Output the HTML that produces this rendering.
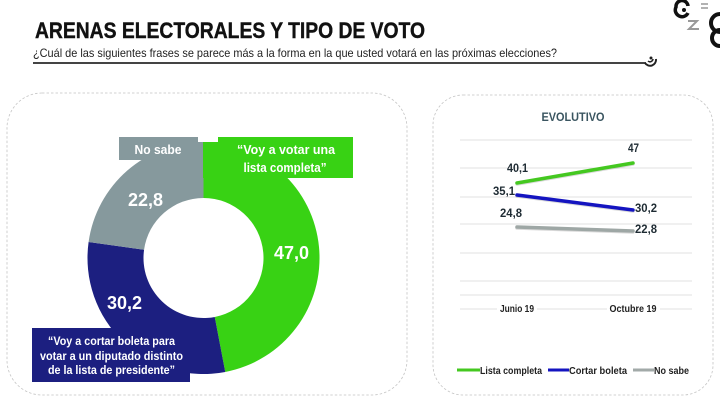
<!DOCTYPE html>
<html><head><meta charset="utf-8"><style>
html,body{margin:0;padding:0;background:#fff;}
svg{display:block;font-family:"Liberation Sans",sans-serif;}
</style></head><body>
<svg width="720" height="405" viewBox="0 0 720 405" xmlns="http://www.w3.org/2000/svg">
<rect width="720" height="405" fill="#fff"/>
<!-- header -->
<text x="35" y="38" font-size="22" font-weight="bold" fill="#111" stroke="#111" stroke-width="0.4" textLength="390" lengthAdjust="spacingAndGlyphs">ARENAS ELECTORALES Y TIPO DE VOTO</text>
<text x="33" y="57" font-size="12" fill="#222" textLength="524" lengthAdjust="spacingAndGlyphs">¿Cuál de las siguientes frases se parece más a la forma en la que usted votará en las próximas elecciones?</text>
<line x1="33" y1="63" x2="646" y2="63" stroke="#444" stroke-width="2"/>
<path d="M645,63 a6,6 0 0 0 11,-4" fill="none" stroke="#222" stroke-width="2"/>
<path d="M648,61 a3,3 0 0 0 5,-2" fill="none" stroke="#222" stroke-width="1.5"/>
<circle cx="651" cy="58" r="1.5" fill="#222"/>
<!-- logo -->
<path d="M688,6 a6,6 0 0 0 -12,1 a6,6 0 0 0 12,6" fill="none" stroke="#111" stroke-width="3.5"/>
<circle cx="684" cy="10" r="2" fill="#111"/>
<path d="M688,21 h9 l-8,8 h10" fill="none" stroke="#999" stroke-width="2"/>
<path d="M701,4 h7 M701,8 h7" stroke="#999" stroke-width="1.5"/>
<path d="M720,14 a9,9 0 0 0 0,18" fill="none" stroke="#111" stroke-width="4"/>
<path d="M720,30 a8,8 0 0 0 -8,8 a8,8 0 0 0 8,8" fill="none" stroke="#111" stroke-width="4"/>
<!-- panels -->
<rect x="7" y="93" width="400" height="302" rx="35" fill="none" stroke="#c4c4c4" stroke-width="0.8" stroke-dasharray="2.5,2"/>
<rect x="433" y="95" width="280" height="300" rx="30" fill="none" stroke="#c4c4c4" stroke-width="0.8" stroke-dasharray="2.5,2"/>
<!-- donut -->
<path d="M203.5,142 A116,116 0 0 1 225.24,371.95 L214.74,316.94 A60,60 0 0 0 203.5,198 Z" fill="#38d214"/>
<path d="M225.24,371.95 A116,116 0 0 1 88.6,242.02 L144.07,249.73 A60,60 0 0 0 214.74,316.94 Z" fill="#1c1f80"/>
<path d="M88.6,242.02 A116,116 0 0 1 203.5,142 L203.5,198 A60,60 0 0 0 144.07,249.73 Z" fill="#86999d"/>
<!-- label boxes -->
<rect x="119" y="137" width="84" height="23" fill="#86999d"/>
<rect x="203" y="137" width="150" height="41" fill="#38d214"/>
<rect x="198" y="136" width="20" height="6" fill="#fff"/>
<rect x="32" y="328" width="158" height="54" fill="#1c1f80"/>
<g fill="#fff" font-weight="bold" text-anchor="middle">
<text x="158" y="154" font-size="13" textLength="47" lengthAdjust="spacingAndGlyphs">No sabe</text>
<text x="286" y="154" font-size="13" textLength="98" lengthAdjust="spacingAndGlyphs">“Voy a votar una</text>
<text x="285" y="172" font-size="13" textLength="83" lengthAdjust="spacingAndGlyphs">lista completa”</text>
<text x="111.5" y="345" font-size="12" textLength="127" lengthAdjust="spacingAndGlyphs">“Voy a cortar boleta para</text>
<text x="111.5" y="360" font-size="12" textLength="143" lengthAdjust="spacingAndGlyphs">votar a un diputado distinto</text>
<text x="111.5" y="374" font-size="12" textLength="127" lengthAdjust="spacingAndGlyphs">de la lista de presidente”</text>
<text x="291.5" y="259" font-size="18">47,0</text>
<text x="145.5" y="206" font-size="18">22,8</text>
<text x="124.5" y="309" font-size="18">30,2</text>
</g>
<!-- line chart -->
<text x="573" y="121" font-size="12" font-weight="bold" fill="#3a5560" text-anchor="middle" textLength="63" lengthAdjust="spacingAndGlyphs">EVOLUTIVO</text>
<g stroke="#e0e0e0" stroke-width="1">
<line x1="460" y1="140" x2="692" y2="140"/>
<line x1="460" y1="168" x2="692" y2="168"/>
<line x1="460" y1="197" x2="692" y2="197"/>
<line x1="460" y1="224" x2="692" y2="224"/>
<line x1="460" y1="253" x2="692" y2="253"/>
<line x1="460" y1="281" x2="692" y2="281"/>
<line x1="460" y1="295" x2="692" y2="295"/>
<line x1="460" y1="309" x2="692" y2="309"/>
</g>
<rect x="497" y="302" width="40" height="14" fill="#fff"/>
<rect x="607" y="302" width="53" height="14" fill="#fff"/>
<g font-size="10" font-weight="bold" fill="#222" text-anchor="middle">
<text x="517" y="312" textLength="34" lengthAdjust="spacingAndGlyphs">Junio 19</text>
<text x="633" y="312" textLength="47" lengthAdjust="spacingAndGlyphs">Octubre 19</text>
</g>
<!-- series shadows -->
<g stroke-width="3.5" stroke-linecap="round" opacity="0.18">
<line x1="517" y1="184" x2="633" y2="164" stroke="#333"/>
<line x1="517" y1="196" x2="633" y2="211" stroke="#333"/>
<line x1="517" y1="228" x2="633" y2="232" stroke="#333"/>
</g>
<g stroke-width="3.5" stroke-linecap="round">
<line x1="517" y1="183" x2="633" y2="163" stroke="#44c820"/>
<line x1="517" y1="195" x2="633" y2="210" stroke="#1414c0"/>
<line x1="517" y1="227" x2="633" y2="231" stroke="#9ea7a5"/>
</g>
<g font-size="12" font-weight="bold" fill="#1e2b33">
<text x="507" y="172" textLength="21" lengthAdjust="spacingAndGlyphs">40,1</text>
<text x="628" y="152" textLength="11" lengthAdjust="spacingAndGlyphs">47</text>
<text x="493" y="195" textLength="22" lengthAdjust="spacingAndGlyphs">35,1</text>
<text x="635" y="212" textLength="22" lengthAdjust="spacingAndGlyphs">30,2</text>
<text x="500" y="217" textLength="22" lengthAdjust="spacingAndGlyphs">24,8</text>
<text x="635" y="233" textLength="22" lengthAdjust="spacingAndGlyphs">22,8</text>
</g>
<!-- legend -->
<g stroke-width="3">
<line x1="457" y1="370" x2="480" y2="370" stroke="#44c820"/>
<line x1="548" y1="370" x2="569" y2="370" stroke="#1414c0"/>
<line x1="633" y1="370" x2="654" y2="370" stroke="#a2aaa8"/>
</g>
<g font-size="10" font-weight="bold" fill="#222">
<text x="480" y="374" textLength="62" lengthAdjust="spacingAndGlyphs">Lista completa</text>
<text x="569" y="374" textLength="58" lengthAdjust="spacingAndGlyphs">Cortar boleta</text>
<text x="654" y="374" textLength="35" lengthAdjust="spacingAndGlyphs">No sabe</text>
</g>
</svg>
</body></html>
